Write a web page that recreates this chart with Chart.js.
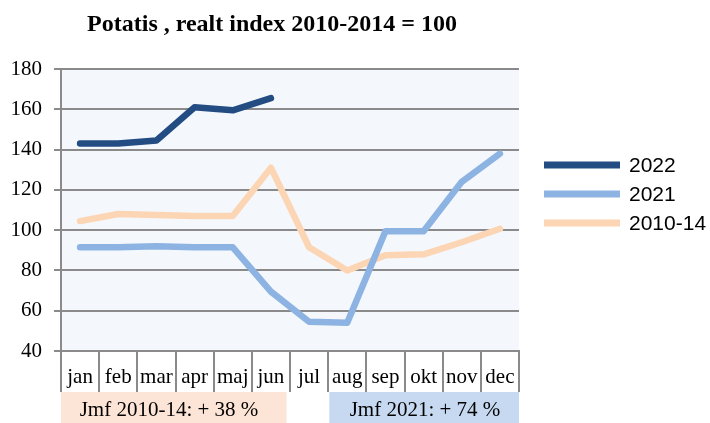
<!DOCTYPE html>
<html>
<head>
<meta charset="utf-8">
<script src="https://cdn.jsdelivr.net/npm/chart.js@4"></script>
<style>
  body { margin: 0; background: #fff; }
  canvas { display: block; }
</style>
</head>
<body>
<canvas id="c" width="710" height="423"></canvas>
<script>
const months = ['jan', 'feb', 'mar', 'apr', 'maj', 'jun', 'jul', 'aug', 'sep', 'okt', 'nov', 'dec'];
const values2022 = [143, 143, 144.5, 161, 159.5, 165.5, null, null, null, null, null, null];
const values2021 = [91.5, 91.5, 92, 91.5, 91.5, 69.5, 54.5, 54, 99.5, 99.5, 124, 138];
const values2010 = [104.5, 108, 107.5, 107, 107, 131, 91.5, 80, 87.5, 88, 94, 100.7];
const yTicks = [40, 60, 80, 100, 120, 140, 160, 180];
const titleText = 'Potatis , realt index 2010-2014 = 100';
const noteLeft = 'Jmf 2010-14: + 38 %';
const noteRight = 'Jmf 2021: + 74 %';

const gridColor = '#8a8a8a';
const serif = "'Liberation Serif', 'Times New Roman', serif";
const sans = "'Liberation Sans', Arial, sans-serif";

// background of plot, title, notes under the axis and the legend on the right
const extras = {
    id: 'extras',
    beforeDraw(chart) {
        const { ctx, chartArea: a } = chart;
        ctx.save();
        ctx.fillStyle = '#f4f8fc';
        ctx.fillRect(a.left, a.top, a.right - a.left, a.bottom - a.top);

        // note boxes under the month labels
        const x = chart.scales.x;
        const cw = (a.right - a.left) / months.length;
        const boxTop = 392;
        const boxBottom = chart.height;
        const l1 = a.left, r1 = x.getPixelForValue(5) + cw * 0.41;
        const l2 = x.getPixelForValue(7) - cw * 0.47, r2 = a.right;
        ctx.fillStyle = '#fce4d6';
        ctx.fillRect(l1, boxTop, r1 - l1, boxBottom - boxTop);
        ctx.fillStyle = '#c6d9f1';
        ctx.fillRect(l2, boxTop, r2 - l2, boxBottom - boxTop);
        ctx.fillStyle = '#000';
        ctx.font = '21px ' + serif;
        ctx.textAlign = 'center';
        ctx.textBaseline = 'alphabetic';
        ctx.fillText(noteLeft, 169, 416);
        ctx.fillText(noteRight, 425, 416);

        // title
        ctx.font = 'bold 24px ' + serif;
        ctx.fillText(titleText, 272, 31);
        ctx.restore();
    },
    afterDraw(chart) {
        const { ctx } = chart;
        ctx.save();
        ctx.font = '21px ' + sans;
        ctx.textAlign = 'left';
        ctx.textBaseline = 'middle';
        const rows = [165, 194, 223];
        chart.data.datasets.forEach((ds, i) => {
            ctx.strokeStyle = ds.borderColor;
            ctx.lineWidth = 7;
            ctx.beginPath();
            ctx.moveTo(544, rows[i]);
            ctx.lineTo(620, rows[i]);
            ctx.stroke();
            ctx.fillStyle = '#000';
            ctx.fillText(ds.label, 629, rows[i] + 1);
        });
        ctx.restore();
    }
};

new Chart(document.getElementById('c'), {
    type: 'line',
    data: {
        labels: months,
        datasets: [
            { label: '2022', data: values2022, borderColor: '#234c82' },
            { label: '2021', data: values2021, borderColor: '#8db3e2' },
            { label: '2010-14', data: values2010, borderColor: '#fcd5b4' }
        ]
    },
    options: {
        responsive: false,
        animation: false,
        devicePixelRatio: 1,
        layout: { padding: { top: 69, right: 191, left: 0, bottom: 0 } },
        elements: {
            line: { borderWidth: 6.5, tension: 0, borderCapStyle: 'round', borderJoinStyle: 'round' },
            point: { radius: 0, hoverRadius: 0 }
        },
        plugins: {
            legend: { display: false },
            title: { display: false },
            tooltip: { enabled: false }
        },
        scales: {
            x: {
                offset: true,
                afterFit(scale) { scale.height = 72; },
                grid: { offset: true, drawOnChartArea: false, tickLength: 41, color: gridColor, lineWidth: 2 },
                border: { color: gridColor, width: 2 },
                ticks: { color: '#000', font: { family: serif, size: 21 }, padding: -27, maxRotation: 0, autoSkip: false }
            },
            y: {
                min: 40,
                max: 180,
                afterFit(scale) { scale.width = 61; },
                afterBuildTicks(scale) { scale.ticks = yTicks.map(v => ({ value: v })); },
                grid: { color: gridColor, lineWidth: 2, tickLength: 7 },
                border: { color: gridColor, width: 2 },
                ticks: { color: '#000', font: { family: serif, size: 21 }, padding: 12 }
            }
        }
    },
    plugins: [extras]
});
</script>
</body>
</html>
